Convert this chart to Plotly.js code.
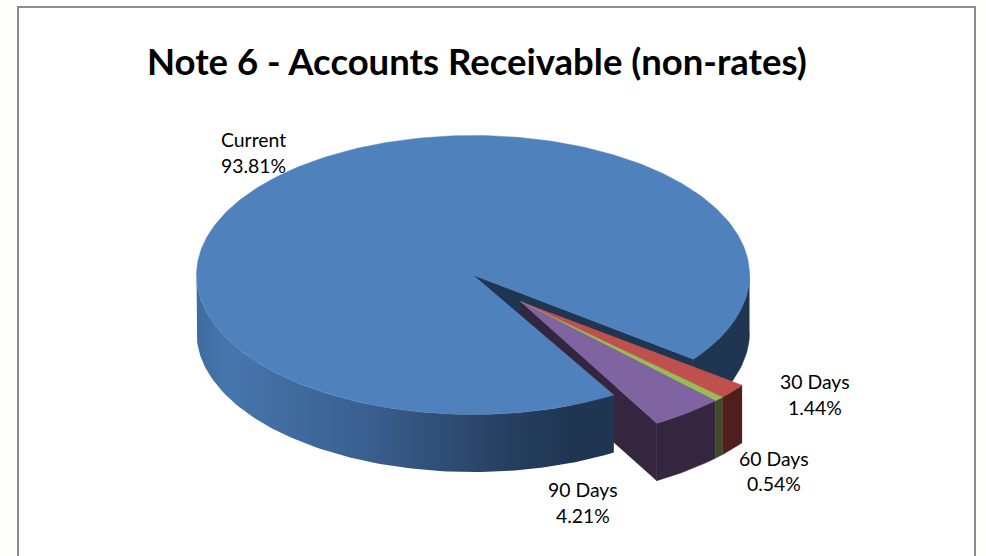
<!DOCTYPE html>
<html><head><meta charset="utf-8">
<script src="https://cdn.plot.ly/plotly-3.0.1.min.js"></script>
<style>html,body{margin:0;padding:0;background:#fff}#c{width:986px;height:556px}</style>
</head><body><div id="c"></div>
<script>
// Data
const categories = ["Current", "30 Days", "60 Days", "90 Days"];
const shares = [93.81, 1.44, 0.54, 4.21];
const topColors = ["#4f81bd", "#c0504d", "#9bbb59", "#8064a2"];
const wallColors = ["#1f3552", "#4f1f1d", "#3f4c25", "#35263f"];
const chartTitle = "Note 6 - Accounts Receivable (non-rates)";

// Projection of the tilted pie onto the page
const C = {x: 473, y: 275, rx: 276.5, ry: 139.5, depth: 57.5};
const OUT = {x: 520.7, y: 301.7};          // apex of the pulled-out slices
const gapStart = 37.1;                     // screen angle where the gap in the big slice begins
const perspective = {start: 36.8, spread: 1.064, power: 0.9};

function arc(c, a0, a1, dy) {
  const xs = [], ys = [], n = Math.max(2, Math.ceil(Math.abs(a1 - a0)));
  for (let i = 0; i <= n; i++) {
    const t = (a0 + (a1 - a0) * i / n) * Math.PI / 180;
    xs.push(c.x + C.rx * Math.cos(t));
    ys.push(c.y + C.ry * Math.sin(t) + (dy || 0));
  }
  return {xs, ys};
}
function poly(xs, ys, color, extra) {
  return Object.assign({type: "scatter", mode: "lines", x: xs, y: ys, fill: "toself",
    fillcolor: color, line: {width: 0.5, color: color}, hoverinfo: "skip", showlegend: false}, extra || {});
}
function rimWall(c, a0, a1, color, extra) {
  const top = arc(c, a0, a1), bot = arc(c, a1, a0, C.depth);
  return poly(top.xs.concat(bot.xs), top.ys.concat(bot.ys), color, extra);
}
function wedge(c, a0, a1, color) {
  const r = arc(c, a0, a1);
  return poly([c.x].concat(r.xs, [c.x]), [c.y].concat(r.ys, [c.y]), color);
}

const total = shares.reduce((a, b) => a + b, 0);
const smallDeg = shares.slice(1).map(v => v / total * 360);
const gapDeg = smallDeg.reduce((a, b) => a + b, 0);
const gapEnd = gapStart + gapDeg;

// Angular ranges of the pulled-out slices, as the perspective shows them
const ranges = [];
let acc = 0;
smallDeg.forEach(d => {
  const f0 = acc / gapDeg; acc += d; const f1 = acc / gapDeg;
  const span = gapDeg * perspective.spread;
  ranges.push([perspective.start + span * Math.pow(f0, perspective.power),
               perspective.start + span * Math.pow(f1, perspective.power)]);
});

const traces = [];
// Big slice: far-side wall and the inner cut wall
traces.push(rimWall(C, 0, gapStart, wallColors[0]));
{
  const p = arc(C, gapStart, gapStart);
  const ex = p.xs[0], ey = p.ys[0];
  traces.push(poly([C.x, ex, ex, C.x, C.x], [C.y, ey, ey + C.depth, C.y + C.depth, C.y], wallColors[0]));
}
// Pulled-out slices: walls
ranges.forEach((r, i) => traces.push(rimWall(OUT, r[0], r[1], wallColors[i + 1])));
{
  const last = ranges[ranges.length - 1][1];
  const p = arc(OUT, last, last);
  traces.push(poly([OUT.x, p.xs[0], p.xs[0], OUT.x, OUT.x],
                   [OUT.y, p.ys[0], p.ys[0] + C.depth, OUT.y + C.depth, OUT.y], wallColors[3]));
}
// Big slice: near wall with a lit gradient, then its top face
traces.push(rimWall(C, gapEnd, 180, "#3f6b9e", {
  fillgradient: {type: "horizontal", colorscale: [
    [0, "#3f6c9f"], [0.08, "#4676ac"], [0.2, "#426da0"], [0.4, "#3a6090"],
    [0.6, "#2f4d73"], [0.75, "#263f60"], [0.9, "#1f3552"], [1, "#1f3552"]]},
  line: {width: 0}
}));
traces.push(wedge(C, gapEnd, gapStart + 360, topColors[0]));
// Pulled-out slices: top faces
ranges.forEach((r, i) => traces.push(wedge(OUT, r[0], r[1], topColors[i + 1])));

// Data labels
const labelFont = {family: "Lato, 'Open Sans', sans-serif", size: 19.4, color: "#000"};
const labelAt = [
  {x: 253, y: 139, dy: 26.5},
  {x: 815, y: 381, dy: 26},
  {x: 774, y: 458, dy: 25.5},
  {x: 583, y: 489, dy: 26}
];
const annotations = [];
categories.forEach((cat, i) => {
  const p = labelAt[i];
  annotations.push({x: p.x, y: p.y, xref: "x", yref: "y", text: cat, showarrow: false, font: labelFont, xanchor: "center", yanchor: "middle"});
  annotations.push({x: p.x, y: p.y + p.dy, xref: "x", yref: "y", text: shares[i].toFixed(2) + "%", showarrow: false, font: labelFont, xanchor: "center", yanchor: "middle"});
});
annotations.push({x: 477, y: 61, xref: "x", yref: "y", text: "<b>" + chartTitle + "</b>", showarrow: false,
  font: {family: "Lato, 'Open Sans', sans-serif", size: 36.5, color: "#000"}, xanchor: "center", yanchor: "middle"});

const layout = {
  width: 986, height: 556,
  margin: {l: 0, r: 0, t: 0, b: 0},
  paper_bgcolor: "#fff", plot_bgcolor: "#fff",
  showlegend: false,
  xaxis: {range: [0, 986], visible: false, fixedrange: true},
  yaxis: {range: [556, 0], visible: false, fixedrange: true},
  annotations,
  shapes: [
    {type: "rect", xref: "x", yref: "y", x0: 0, x1: 16, y0: 0, y1: 556, fillcolor: "#fdfdfa", line: {width: 0}, layer: "below"},
    {type: "rect", xref: "x", yref: "y", x0: 976, x1: 986, y0: 0, y1: 556, fillcolor: "#fdfdfa", line: {width: 0}, layer: "below"},
    {type: "rect", xref: "x", yref: "y", x0: 0, x1: 986, y0: 0, y1: 6, fillcolor: "#fdfdfa", line: {width: 0}, layer: "below"},
    {type: "rect", xref: "x", yref: "y", x0: 18, x1: 975, y0: 7, y1: 570, fillcolor: "rgba(0,0,0,0)", line: {width: 2, color: "#8c8c8c"}, layer: "above"}
  ]
};
Plotly.newPlot("c", traces, layout, {displayModeBar: false, staticPlot: true});
</script></body></html>
